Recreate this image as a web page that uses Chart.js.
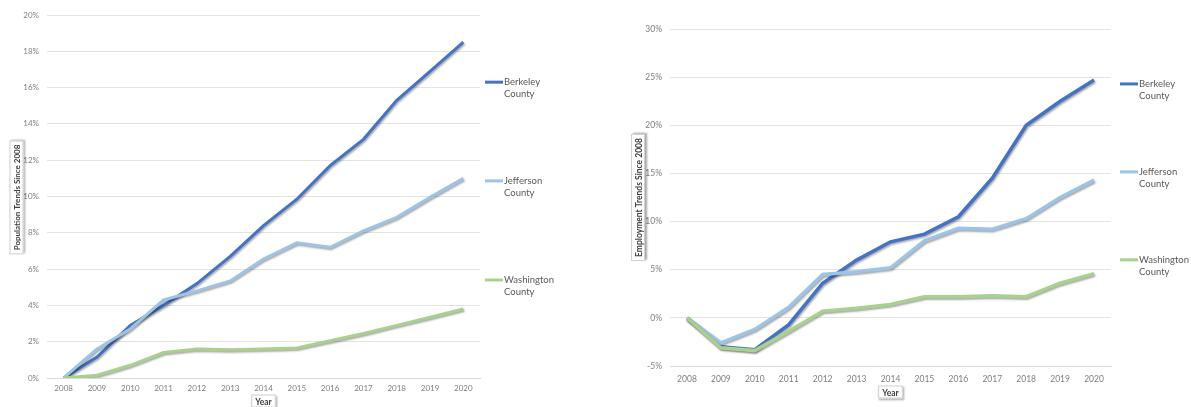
<!DOCTYPE html>
<html>
<head>
<meta charset="utf-8">
<script src="https://cdn.jsdelivr.net/npm/chart.js"></script>
<style>
  body { margin: 0; background: #fff; }
  #left { position: absolute; left: 0; top: 0; }
  #right { position: absolute; left: 600px; top: 0; }
</style>
</head>
<body>
<canvas id="left" width="595" height="407"></canvas>
<canvas id="right" width="591" height="407"></canvas>
<script>
var years = ['2008','2009','2010','2011','2012','2013','2014','2015','2016','2017','2018','2019','2020'];
var counties = ['Berkeley County', 'Jefferson County', 'Washington County'];
var colors = ['#4472C4', '#9DC3E6', '#A9D18E'];

// population change since 2008, percent
var popBerkeley   = [0, 1.15, 2.9, 4.0, 5.2, 6.7, 8.4, 9.85, 11.7, 13.15, 15.3, 16.9, 18.5];
var popJefferson  = [0, 1.6, 2.7, 4.3, 4.8, 5.35, 6.55, 7.45, 7.2, 8.1, 8.85, 9.95, 11.0];
var popWashington = [0, 0.15, 0.7, 1.4, 1.6, 1.55, 1.6, 1.65, 2.05, 2.45, 2.9, 3.35, 3.8];

// employment change since 2008, percent
var empBerkeley   = [0, -3.0, -3.3, -0.7, 3.6, 6.0, 7.9, 8.7, 10.5, 14.5, 20.0, 22.5, 24.7];
var empJefferson  = [0, -2.6, -1.2, 1.1, 4.5, 4.8, 5.2, 8.0, 9.3, 9.2, 10.3, 12.5, 14.3];
var empWashington = [0, -3.1, -3.4, -1.4, 0.7, 1.0, 1.4, 2.2, 2.2, 2.3, 2.2, 3.6, 4.6];

var fontFam = 'Lato, "Open Sans", sans-serif';

// soft shadow under the lines, like the spreadsheet original
var shadowPlugin = {
    id: 'lineShadow',
    beforeDatasetsDraw: function (chart) {
        var ctx = chart.ctx;
        ctx.save();
        ctx.shadowColor = 'rgba(0,0,0,0.35)';
        ctx.shadowBlur = 2;
        ctx.shadowOffsetX = 1;
        ctx.shadowOffsetY = 1.5;
    },
    afterDatasetsDraw: function (chart) {
        chart.ctx.restore();
    }
};

function boxedText(ctx, text, cx, cy, rotate, font) {
    ctx.save();
    ctx.translate(cx, cy);
    if (rotate) ctx.rotate(-Math.PI / 2);
    ctx.font = font;
    var w = ctx.measureText(text).width + 8;
    var h = rotate ? 14 : 13;
    ctx.shadowColor = 'rgba(0,0,0,0.35)';
    ctx.shadowBlur = 2;
    ctx.shadowOffsetX = rotate ? 1.5 : 1;
    ctx.shadowOffsetY = rotate ? -1 : 1.5;
    ctx.fillStyle = '#fff';
    ctx.fillRect(-w / 2, -h / 2, w, h);
    ctx.shadowColor = 'transparent';
    ctx.strokeStyle = '#d0d0d0';
    ctx.lineWidth = 1;
    ctx.strokeRect(-w / 2 + 0.5, -h / 2 + 0.5, w - 1, h - 1);
    ctx.fillStyle = '#404040';
    ctx.textAlign = 'center';
    ctx.textBaseline = 'middle';
    ctx.fillText(text, 0, 1);
    ctx.restore();
}

var decorPlugin = {
    id: 'decor',
    afterDraw: function (chart, args, o) {
        var ctx = chart.ctx;
        var a = chart.chartArea;
        // legend on the right
        ctx.save();
        ctx.font = '9.5px ' + fontFam;
        ctx.textBaseline = 'middle';
        ctx.fillStyle = '#595959';
        chart.data.datasets.forEach(function (ds, i) {
            var y = a.top + o.legendY[i] * (a.bottom - a.top);
            var x = a.right + o.legendGap;
            ctx.strokeStyle = ds.borderColor;
            ctx.lineWidth = 3;
            ctx.beginPath();
            ctx.moveTo(x, y);
            ctx.lineTo(x + 18, y);
            ctx.stroke();
            var parts = ds.label.split(' ');
            ctx.fillText(parts[0], x + 19, y);
            ctx.fillText(parts[1], x + 19, y + 12);
        });
        ctx.restore();
        // axis titles
        boxedText(ctx, o.yTitle, o.yTitleX, (a.top + a.bottom) / 2 + o.yTitleShift, true, 'bold ' + o.yTitleSize + 'px ' + fontFam);
        boxedText(ctx, 'Year', (a.left + a.right) / 2, o.xTitleY, false, 'bold 8.5px ' + fontFam);
    }
};

function makeChart(id, series, cfg) {
    var ctx = document.getElementById(id);
    return new Chart(ctx, {
        type: 'line',
        data: {
            labels: years,
            datasets: series.map(function (vals, i) {
                return {
                    label: counties[i],
                    data: vals,
                    borderColor: colors[i],
                    backgroundColor: colors[i],
                    borderWidth: cfg.lineWidth,
                    pointRadius: 0,
                    tension: 0,
                    order: 3 - i
                };
            })
        },
        options: {
            responsive: false,
            animation: false,
            devicePixelRatio: 1,
            layout: { padding: { top: cfg.top, right: cfg.right, left: 0, bottom: 0 } },
            plugins: {
                legend: { display: false },
                tooltip: { enabled: false },
                decor: cfg.decor
            },
            scales: {
                x: {
                    offset: true,
                    grid: { display: false, drawTicks: false },
                    border: { color: '#d9d9d9' },
                    ticks: { color: '#7f7f7f', font: { family: fontFam, size: cfg.tickSize }, padding: cfg.xPad, maxRotation: 0 },
                    afterFit: function (s) { s.height = cfg.xHeight; }
                },
                y: {
                    min: cfg.min,
                    max: cfg.max,
                    border: { display: false },
                    grid: { color: '#e3e3e3', lineWidth: 1, drawTicks: false },
                    ticks: {
                        stepSize: cfg.step,
                        color: '#7f7f7f',
                        padding: 8,
                        font: { family: fontFam, size: cfg.tickSize },
                        callback: function (v) { return v + '%'; }
                    },
                    afterFit: function (s) { s.width = cfg.yWidth; }
                }
            }
        },
        plugins: [shadowPlugin, decorPlugin]
    });
}

makeChart('left', [popBerkeley, popJefferson, popWashington], {
    lineWidth: 3, top: 15, right: 115, xHeight: 29, yWidth: 47, xPad: 6,
    min: 0, max: 20, step: 2, tickSize: 8,
    decor: { legendY: [0.185, 0.457, 0.730], legendGap: 5, yTitle: 'Population Trends Since 2008',
             yTitleX: 16.5, yTitleShift: 1, yTitleSize: 8, xTitleY: 401 }
});

makeChart('right', [empBerkeley, empJefferson, empWashington], {
    lineWidth: 3.5, top: 29, right: 80, xHeight: 41, yWidth: 70, xPad: 8,
    min: -5, max: 30, step: 5, tickSize: 8.5,
    decor: { legendY: [0.163, 0.424, 0.685], legendGap: 9, yTitle: 'Employment Trends Since 2008',
             yTitleX: 38, yTitleShift: 0, yTitleSize: 8.5, xTitleY: 392 }
});
</script>
</body>
</html>
